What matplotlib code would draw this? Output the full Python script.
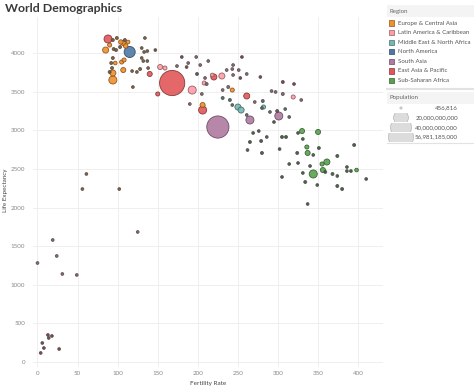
import matplotlib
matplotlib.use("Agg")
import matplotlib.pyplot as plt
import numpy as np
from matplotlib.patches import Rectangle, Ellipse

plt.rcParams["font.family"] = ["Lato", "DejaVu Sans"]

# region codes -> legend names, in legend order
regions = ["E", "L", "M", "N", "S", "A", "F"]
region_names = ["Europe & Central Asia", "Latin America & Caribbean",
                "Middle East & North Africa", "North America", "South Asia",
                "East Asia & Pacific", "Sub-Saharan Africa"]
region_colors = ["#F28E2B", "#FF9DA7", "#76B7B2", "#4E79A7", "#B07AA1",
                 "#E15759", "#59A14F"]

# fertility rate, life expectancy, population (billions), region
fertility = [88, 85, 90, 94, 99, 104, 107, 110, 113, 109, 103, 115, 95, 98,
             134, 130, 133, 137, 147, 130, 94, 97, 92, 105, 108, 107, 93, 90,
             94, 94, 118, 124, 128, 132, 137, 140, 138, 119, 153, 159, 150,
             168, 174, 193,
             180, 198, 186, 188, 199, 203, 209, 213, 218, 220, 230, 208, 211,
             236, 243, 244, 253, 255, 261, 278, 238, 243, 231, 205, 231, 240,
             261, 271, 281, 292, 297, 306, 320, 306, 319, 329, 244, 251, 206,
             206, 190, 225, 250, 254, 243, 265, 261, 282, 280, 290, 309, 299,
             301, 314, 295, 269, 276, 286, 265, 279, 262, 280, 305, 310, 302,
             330, 350, 325, 331, 336, 351, 324, 337, 344, 395, 374, 314, 325,
             340, 361, 355, 356, 359, 344, 368, 374, 386, 386, 391, 398, 331,
             305, 334, 349, 374, 380, 410, 337,
             61, 56, 102, 125, 19, 24, 0, 31, 49, 13, 18, 14, 6, 8, 27, 4]
life_expectancy = [4183, 4040, 4105, 4170, 4196, 4144, 4131, 4092, 4144, 4170,
                   4079, 4015, 4053, 4040, 4196, 4066, 4015, 4027, 4040, 3937,
                   3937, 3872, 3872, 3885, 3911, 3781, 3807, 3756, 3743, 3652,
                   3768, 3756, 3794, 3898, 3898, 3730, 3807, 3561, 3820, 3807,
                   3471, 3613, 3833, 3522,
                   3950, 3950, 3820, 3872, 3730, 3846, 3678, 3898, 3717, 3691,
                   3704, 3613, 3600, 3781, 3794, 3717, 3678, 3950, 3730, 3691,
                   3561, 3522, 3522, 3471, 3419, 3393, 3445, 3367, 3380, 3509,
                   3497, 3626, 3600, 3471, 3432, 3393, 3846, 3781, 3328, 3263,
                   3341, 3043, 3302, 3263, 3328, 3134, 3199, 3302, 3289, 3238,
                   3276, 3250, 3186, 3173, 3108, 2966, 2991, 2914, 2849, 2862,
                   2745, 2707, 2914, 2914, 2758,
                   2991, 2979, 2966, 2888, 2784, 2771, 2707, 2707, 2681, 2810,
                   2668, 2564, 2577, 2538, 2590, 2564, 2486, 2461, 2435, 2435,
                   2409, 2525, 2473, 2473, 2486, 2448, 2396, 2331, 2292, 2279,
                   2240, 2370, 2046,
                   2435, 2240, 2240, 1684, 1580, 1373, 1282, 1140, 1127, 350,
                   337, 311, 246, 181, 168, 117]
population = [5.8, 3.3, 1.5, 0.8, 0.8, 1.8, 2.3, 1.8, 1.2, 0.8, 0.8, 11.0,
              0.8, 0.8, 0.5, 0.5, 0.5, 0.5, 0.5, 0.5, 0.8, 1.2, 0.8, 1.5, 1.5,
              2.3, 0.8, 0.8, 3.3, 5.8, 0.5, 0.5, 0.8, 0.5, 0.5, 2.3, 0.5, 0.5,
              2.3, 1.5, 1.5, 57.0, 0.5, 5.8,
              0.5, 0.5, 0.5, 0.5, 0.8, 0.5, 0.5, 0.5, 1.2, 3.3, 3.3, 1.5, 0.8,
              0.5, 0.5, 0.5, 0.5, 0.5, 0.5, 0.5, 0.8, 1.5, 0.5, 0.5, 0.8, 0.8,
              3.3, 0.5, 0.8, 0.5, 0.5, 0.8, 0.5, 0.8, 1.5, 0.5, 0.5, 0.5, 2.3,
              5.8, 0.5, 44.0, 3.3, 3.3, 0.5, 5.8, 0.5, 1.5, 0.5, 0.5, 0.5, 0.8,
              5.8, 0.5, 0.5, 0.5, 0.5, 0.5, 0.8, 0.8, 0.5, 0.8, 0.8, 0.8, 0.5,
              2.3, 2.3, 0.5, 0.5, 1.5, 0.8, 0.8, 2.3, 0.5, 0.8, 0.8, 0.5, 0.5,
              0.5, 3.3, 1.5, 2.3, 0.8, 5.8, 0.8, 0.5, 0.5, 0.5, 0.5, 1.2, 0.5,
              0.5, 0.8, 0.5, 0.8, 0.8, 0.5, 0.5,
              0.3, 0.3, 0.3, 0.3, 0.3, 0.3, 0.3, 0.3, 0.3, 0.3, 0.3, 0.3, 0.3,
              0.3, 0.3, 0.3]
region = (list("A" + "E" * 10 + "N" + "E" * 6 + "A" + "E" * 16 + "AEELLAALL")
          + list("ALALSLLLLALLLLLLAALALELLMMALMLLAALLLLLEALSMMMSMMMMMSSM" + "F" * 11)
          + list("F" * 33)
          + list("EEELLLLLLAAAAAAA"))

pop_legend = [0.456816, 20.0, 40.0, 56.981185]
pop_labels = ["456,816", "20,000,000,000", "40,000,000,000", "56,981,185,000"]


def darker(c, f=0.7):
    r, g, b = matplotlib.colors.to_rgb(c)
    return (r * f, g * f, b * f)


def main():
    fig = plt.figure(figsize=(4.74, 3.91), dpi=100)
    ax = fig.add_axes([33 / 474, 24 / 391, 350 / 474, 350 / 391])

    x = np.array(fertility, float)
    y = np.array(life_expectancy, float)
    p = np.array(population, float)
    cmap = dict(zip(regions, region_colors))
    sizes = np.maximum(4.0, p * 330 / 57.0)
    order = np.argsort(-p, kind="stable")
    face = []
    edge = []
    for i in order:
        c = cmap[region[i]]
        if p[i] < 1.0:
            face.append(darker(c, 0.55))
            edge.append("#4d4d4d")
        else:
            face.append(c)
            edge.append(darker(c, 0.55))
    ax.scatter(x[order], y[order], s=sizes[order], c=face, edgecolors=edge,
               linewidths=0.6, alpha=0.9, zorder=3)

    ax.set_xlim(-5.6, 431)
    ax.set_ylim(-65, 4468)
    ax.set_xticks(np.arange(0, 401, 50))
    ax.set_yticks(np.arange(0, 4001, 500))
    ax.tick_params(length=0, labelsize=4.5, labelcolor="#8a8a8a", pad=3)
    ax.tick_params(axis="y", pad=5.5)
    ax.grid(True, color="#ececec", lw=0.6)
    ax.set_axisbelow(True)
    for s in ax.spines.values():
        s.set_visible(False)

    fig.text(5 / 474, 1 - 9 / 391, "World Demographics", fontsize=8.9,
             weight="bold", color="#3a3a3a", va="center", ha="left")
    fig.text(6 / 474, 1 - 190 / 391, "Life Expectancy", fontsize=4.5,
             color="#444444", rotation=90, va="center", ha="center")
    fig.text(208 / 474, 1 - 384 / 391, "Fertility Rate", fontsize=4.6,
             color="#444444", va="center", ha="center")

    # legend panel in pixel coordinates
    lg = fig.add_axes([386 / 474, 0, 88 / 474, 1])
    lg.set_xlim(386, 474)
    lg.set_ylim(391, 0)
    lg.axis("off")

    lg.add_patch(Rectangle((387, 5), 87, 12, facecolor="#f4f4f4", edgecolor="none"))
    lg.text(390, 11, "Region", fontsize=4.4, color="#666666", va="center")
    for i, (name, col) in enumerate(zip(region_names, region_colors)):
        yy = 23 + i * 9.6
        lg.add_patch(Rectangle((389, yy - 2.6), 5.2, 5.2, facecolor=col,
                               edgecolor=darker(col, 0.6), lw=0.5))
        lg.text(397.5, yy, name, fontsize=4.4, color="#555555", va="center")
    lg.plot([387, 474], [89, 89], color="#e2e2e2", lw=1.5)

    lg.add_patch(Rectangle((387, 92), 87, 12, facecolor="#f4f4f4", edgecolor="none"))
    lg.text(390, 97, "Population", fontsize=4.4, color="#666666", va="center")
    for i, (pv, lab) in enumerate(zip(pop_legend, pop_labels)):
        yy = 108 + i * 9.7
        r = max(0.8, 12.5 * np.sqrt(pv / 57.0))
        e = Ellipse((401, yy), 2 * r, 2 * r, facecolor="#dcdcdc",
                    edgecolor="#b5b5b5", lw=0.5)
        lg.add_patch(e)
        clip = Rectangle((386, yy - 4.4), 30, 8.8, transform=lg.transData)
        e.set_clip_path(clip)
        lg.text(458, yy, lab, fontsize=4.4, color="#555555", va="center", ha="right")
    lg.plot([387, 474], [143, 143], color="#e2e2e2", lw=0.8)

    fig.savefig("out.png", dpi=100, facecolor="white")
    plt.close(fig)


if __name__ == "__main__":
    main()
